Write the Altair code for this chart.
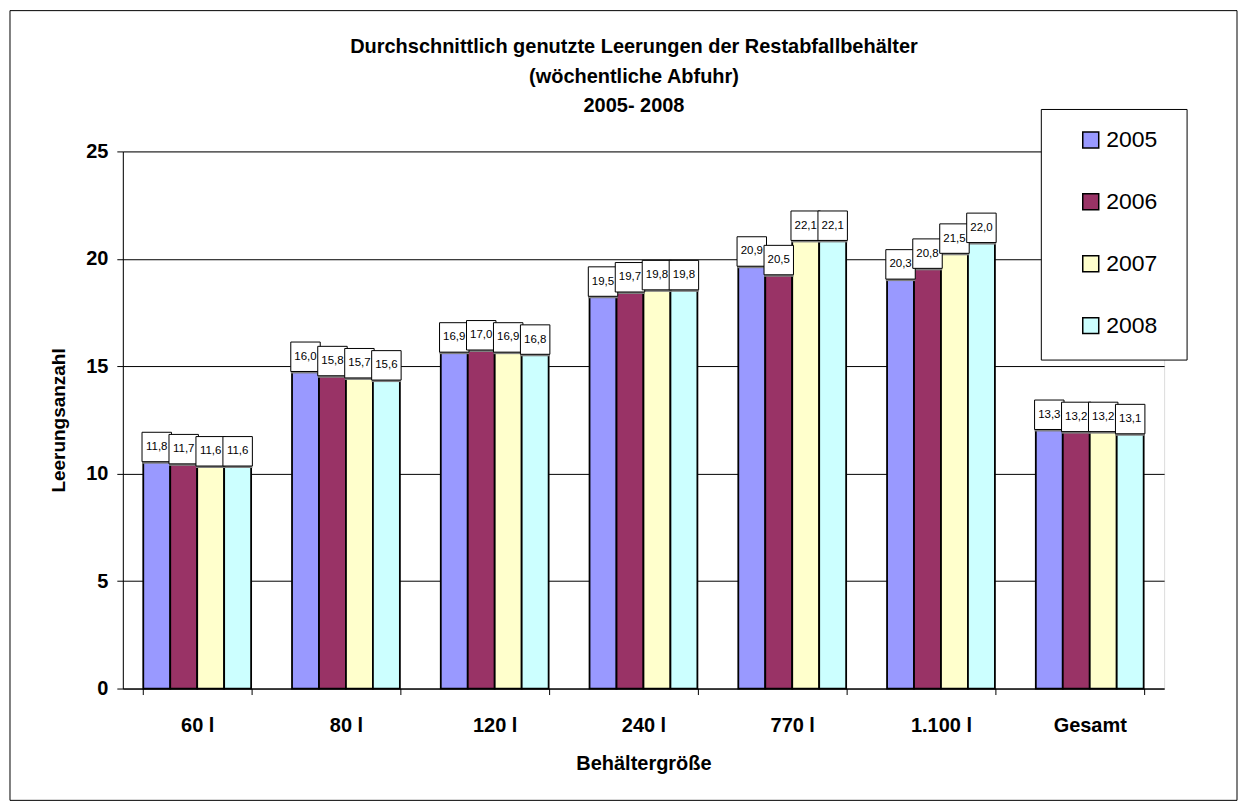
import altair as alt
import pandas as pd

categories = ["60 l", "80 l", "120 l", "240 l", "770 l", "1.100 l", "Gesamt"]
years = ["2005", "2006", "2007", "2008"]
v2005 = [11.8, 16.0, 16.9, 19.5, 20.9, 20.3, 13.3]
v2006 = [11.7, 15.8, 17.0, 19.7, 20.5, 20.8, 13.2]
v2007 = [11.6, 15.7, 16.9, 19.8, 22.1, 21.5, 13.2]
v2008 = [11.6, 15.6, 16.8, 19.8, 22.1, 22.0, 13.1]
colors = ["#9999FF", "#993366", "#FFFFCC", "#CCFFFF"]
title_lines = ["Durchschnittlich genutzte Leerungen der Restabfallbehälter",
               "(wöchentliche Abfuhr)", "2005- 2008"]

rows = []
for yr, vals in zip(years, [v2005, v2006, v2007, v2008]):
    for c, v in zip(categories, vals):
        rows.append({"cat": c, "year": yr, "value": v})
df = pd.DataFrame(rows)

FONT = "Liberation Sans"
W, H = 1043, 538

base = alt.Chart(df).transform_calculate(
    label="replace(format(datum.value, '.1f'), '.', ',')"
)

x_enc = alt.X(
    "cat:N", sort=categories,
    scale=alt.Scale(paddingInner=0.275, paddingOuter=0.1375),
    axis=alt.Axis(
        title="Behältergröße", labelAngle=0, labelFont=FONT, labelFontSize=20,
        labelFontWeight="bold", labelColor="black", labelPadding=21,
        tickBand="extent", tickSize=6, tickColor="black", domainColor="black",
        titleFont=FONT, titleFontSize=20, titleFontWeight="bold", titleColor="black",
        titlePadding=18,
    ),
)
xo_enc = alt.XOffset("year:N", sort=years, scale=alt.Scale(paddingInner=0, paddingOuter=0))
y_enc = alt.Y(
    "value:Q", scale=alt.Scale(domain=[0, 25], nice=False),
    axis=alt.Axis(
        title="Leerungsanzahl", values=[0, 5, 10, 15, 20, 25], grid=True,
        gridColor="black", gridWidth=1, gridOpacity=1,
        labelFont=FONT, labelFontSize=20, labelFontWeight="bold", labelColor="black",
        labelPadding=9, tickSize=6, tickColor="black", domainColor="black",
        titleFont=FONT, titleFontSize=19, titleFontWeight="bold", titleColor="black",
        titlePadding=17,
    ),
)

bars = base.mark_bar(stroke="black", strokeWidth=1.8).encode(
    x=x_enc, xOffset=xo_enc, y=y_enc,
    color=alt.Color(
        "year:N", sort=years, scale=alt.Scale(domain=years, range=colors),
        legend=alt.Legend(
            title=None, orient="none", legendX=958, legendY=-23,
            labelFont=FONT, labelFontSize=23, labelColor="black",
            symbolType="square", symbolSize=256, symbolStrokeColor="black",
            symbolStrokeWidth=1.5, rowPadding=38, labelOffset=4,
        ),
    ),
)

shadow = base.mark_square(size=870, color="#808080", opacity=1, xOffset=2).encode(
    x=alt.X("cat:N", sort=categories), xOffset=xo_enc, y=alt.Y("value:Q"),
    yOffset=alt.value(14),
)

boxes = base.mark_square(size=870, fill="white", stroke="black", strokeWidth=1,
                         opacity=1, filled=True).encode(
    x=alt.X("cat:N", sort=categories), xOffset=xo_enc, y=alt.Y("value:Q"),
    yOffset=alt.value(12),
)

labels = base.mark_text(font=FONT, fontSize=11.5, color="black", baseline="middle").encode(
    x=alt.X("cat:N", sort=categories), xOffset=xo_enc, y=alt.Y("value:Q"),
    yOffset=alt.value(12), text="label:N",
)

one = pd.DataFrame({"a": [0]})

legend_box = alt.Chart(one).mark_rect(
    fill="white", stroke="black", strokeWidth=1
).encode(x=alt.value(920), x2=alt.value(1066), y=alt.value(-42), y2=alt.value(209))

frame = alt.Chart(one).mark_rect(
    filled=False, stroke="black", strokeWidth=1, fillOpacity=0
).encode(x=alt.value(-113), x2=alt.value(1116), y=alt.value(-141), y2=alt.value(650))

title_y = [-105, -75, -45]
title_layers = [
    alt.Chart(one).mark_text(font=FONT, fontSize=20, fontWeight="bold", color="black",
                             align="center", baseline="middle").encode(
        x=alt.value(512), y=alt.value(ty), text=alt.value(t))
    for t, ty in zip(title_lines, title_y)
]

chart = alt.layer(bars, shadow, boxes, labels, legend_box, frame, *title_layers).properties(
    width=W, height=H,
    autosize=alt.AutoSizeParams(type="none"),
    padding={"left": 115, "top": 143, "right": 75, "bottom": 112},
).configure_view(
    fill="#C0C0C0", stroke="#808080", strokeWidth=1
).configure(background="white")

chart.save("out.html", embed_options={"renderer": "svg", "actions": False})
